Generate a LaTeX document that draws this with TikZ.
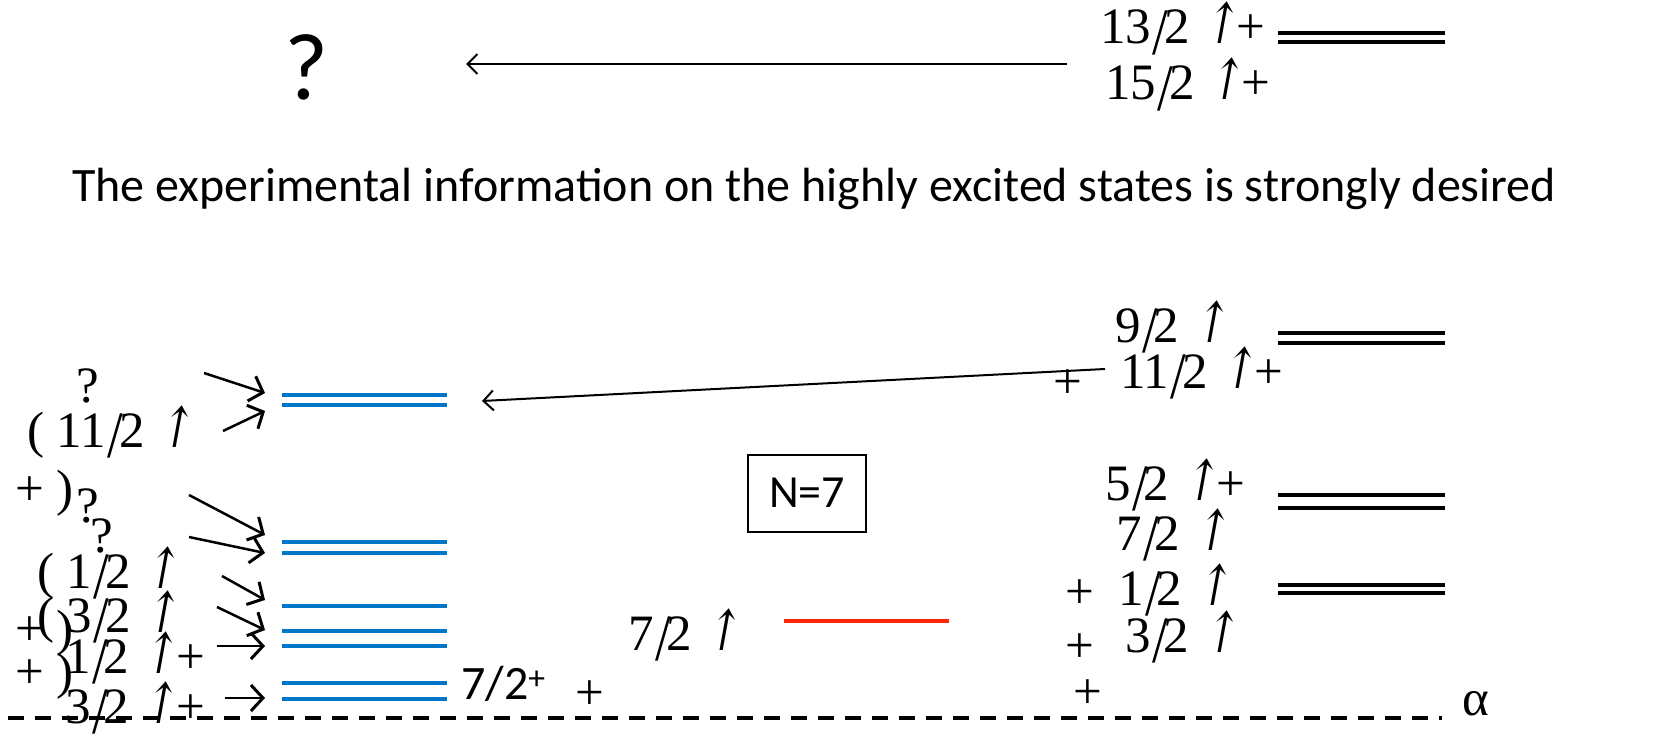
\documentclass[tikz,border=0pt]{standalone}
\usepackage{fontspec}
\setmainfont{Carlito}
\newfontfamily\eqfont{Liberation Serif}
\newfontfamily\arrfont[FakeSlant=0.25]{DejaVu Serif}
\usetikzlibrary{arrows.meta}
\definecolor{lvlblue}{RGB}{0,118,200}
\definecolor{lvlred}{RGB}{255,38,0}
\newcommand{\uar}{{\arrfont\scalebox{0.8}[1.1]{↑}}}
\newcommand{\fsl}{\kern0.03em\raisebox{-0.2em}{\scalebox{1.1}[1.3]{/}}\kern-0.08em}

\begin{document}
\begin{tikzpicture}[
    x=1pt, y=-1pt,
    every node/.style={inner sep=0pt},
    eq/.style={anchor=base west, font=\eqfont\fontsize{51}{53}\selectfont},
    pm/.style={anchor=base, font=\eqfont\fontsize{51}{53}\selectfont},
    calib/.style={font=\fontsize{48}{52}\selectfont},
    bluelvl/.style={lvlblue, line width=4pt},
    blacklvl/.style={line width=3.5pt},
    feed/.style={line width=2.5pt, -{Straight Barb[length=12pt, width=26pt, line width=3pt]}},
    link/.style={line width=2pt, -{Straight Barb[length=10pt, width=20pt, line width=2pt]}}
]
    \useasboundingbox (0,0) rectangle (1662,735);

    % Top row
    \node[anchor=base, font=\fontsize{95}{98}\selectfont] (qtop) at (307,100) {?};
    \node[eq] (j13) at (1100,44) {13\fsl2 \uar+};
    \node[eq] (j15) at (1105,100) {15\fsl2 \uar+};
    \draw[blacklvl] (1278,33) -- (1445,33);
    \draw[blacklvl] (1278,42) -- (1445,42);
    \coordinate (srctop) at (1067,64);
    \coordinate (dsttop) at (466,64);
    \draw[link] (srctop) -- (dsttop);

    % Sentence
    \node[calib, anchor=base west] (note) at (72,202)
        {The experimental information on the highly excited states is strongly desired};

    % Right side levels
    \node[eq] (j9) at (1115,342) {9\fsl2 \uar};
    \node[pm] (p11) at (1068,398) {+};
    \node[eq] (j11) at (1120,388) {11\fsl2 \uar+};
    \node[eq] (j5) at (1105,500) {5\fsl2 \uar+};
    \node[eq] (j7r) at (1116,550) {7\fsl2 \uar};
    \node[pm] (p1) at (1080,608) {+};
    \node[eq] (j1r) at (1118,605) {1\fsl2 \uar};
    \node[pm] (p3) at (1080,662) {+};
    \node[eq] (j3r) at (1125,652) {3\fsl2 \uar};
    \node[pm] (p0) at (1088,708) {+};
    \draw[blacklvl] (1278,333) -- (1445,333);
    \draw[blacklvl] (1278,343) -- (1445,343);
    \draw[blacklvl] (1278,495) -- (1445,495);
    \draw[blacklvl] (1278,508) -- (1445,508);
    \draw[blacklvl] (1278,585) -- (1445,585);
    \draw[blacklvl] (1278,593) -- (1445,593);
    \coordinate (src11) at (1105,369);
    \coordinate (dst11) at (482,401);
    \draw[link] (src11) -- (dst11);

    % Middle
    \node[draw, line width=2pt, minimum width=118pt, minimum height=77pt,
          font=\fontsize{46}{48}\selectfont] (nbox) at (807,493) {N=7};
    \draw[lvlred, line width=4pt] (784,621) -- (949,621);
    \node[eq] (j7m) at (628,650) {7\fsl2 \uar};
    \node[pm] (pmid) at (590,709) {+};
    \node[anchor=base west, font=\fontsize{48}{50}\selectfont] (gs) at (461,699)
        {7/2\textsuperscript{+}};
    \node[pm] (alpha) at (1476,715) {α};

    % Left side labels
    \node[pm] (q1) at (88,402) {?};
    \node[eq] (j11l) at (27,447) {( 11\fsl2 \uar};
    \node[eq] (pc1) at (15,505) {+ )};
    \node[pm] (q2) at (88,522) {?};
    \node[pm] (q3) at (102,552) {?};
    \node[eq] (j1l) at (37,588) {( 1\fsl2 \uar};
    \node[eq] (j3l) at (37,632) {( 3\fsl2 \uar};
    \node[eq] (pc2) at (15,645) {+ )};
    \node[eq] (pc3) at (15,688) {+ )};
    \node[eq] (j1p) at (65,673) {1\fsl2 \uar+};
    \node[eq] (j3p) at (65,723) {3\fsl2 \uar+};

    % Left side levels
    \draw[bluelvl] (282,395) -- (447,395);
    \draw[bluelvl] (282,405) -- (447,405);
    \draw[bluelvl] (282,542) -- (447,542);
    \draw[bluelvl] (282,553) -- (447,553);
    \draw[bluelvl] (282,606) -- (447,606);
    \draw[bluelvl] (282,631) -- (447,631);
    \draw[bluelvl] (282,646) -- (447,646);
    \draw[bluelvl] (282,683) -- (447,683);
    \draw[bluelvl] (282,699) -- (447,699);

    % Left side arrows
    \coordinate (a1) at (204,373);  \coordinate (b1) at (265,393);
    \coordinate (a2) at (223,431);  \coordinate (b2) at (265,411);
    \coordinate (a3) at (189,495);  \coordinate (b3) at (265,535);
    \coordinate (a4) at (189,537);  \coordinate (b4) at (265,553);
    \coordinate (a5) at (222,576);  \coordinate (b5) at (265,600);
    \coordinate (a6) at (217,607);  \coordinate (b6) at (265,630);
    \coordinate (a7) at (217,646);  \coordinate (b7) at (265,646);
    \coordinate (a8) at (225,698);  \coordinate (b8) at (265,698);
    \foreach \i in {1,...,8}
        \draw[feed] (a\i) -- (b\i);

    % Baseline
    \draw[line width=4pt, dash pattern=on 16pt off 11pt] (8,718) -- (1442,718);
\end{tikzpicture}
\end{document}
